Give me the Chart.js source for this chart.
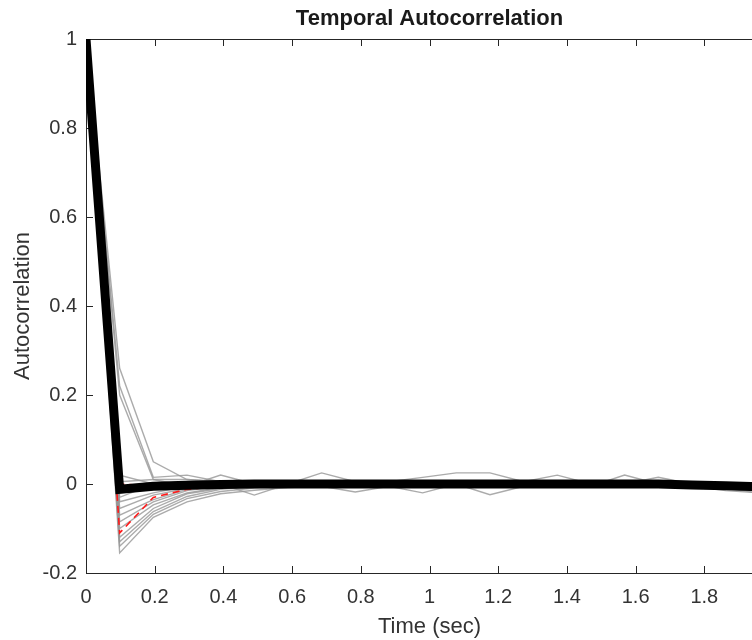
<!DOCTYPE html>
<html>
<head>
<meta charset="utf-8">
<script src="https://cdn.jsdelivr.net/npm/chart.js@4.4.1/dist/chart.umd.min.js"></script>
<style>
  html, body { margin: 0; padding: 0; background: #fff; overflow: hidden; }
  #wrap { width: 848px; height: 640px; }
</style>
</head>
<body>
<div id="wrap"><canvas id="chart" width="848" height="640"></canvas></div>
<script>
// lag times (sec)
const times = [0, 0.098, 0.196, 0.294, 0.392, 0.49, 0.588, 0.686, 0.784, 0.882, 0.98,
  1.078, 1.176, 1.274, 1.372, 1.47, 1.568, 1.666, 1.764, 1.862, 1.96];

// individual autocorrelation curves (gray)
const g01 = [1, 0.26, 0.05, 0.01, 0.005, 0, 0.005, 0, -0.005, 0, 0.005, 0, 0, 0.005, 0, -0.005, 0, 0.005, 0, -0.005, -0.01];
const g02 = [1, 0.22, 0.015, 0.02, 0.005, -0.005, 0, 0.025, 0.005, 0, 0, 0.005, 0, 0, 0.005, 0, 0.005, 0, 0, -0.005, -0.005];
const g03 = [1, 0.2, 0.01, -0.005, 0.02, 0, 0.005, 0, -0.005, 0.005, 0.015, 0.025, 0.025, 0.005, 0, 0, 0, 0.005, 0, 0, -0.005];
const g04 = [1, 0.02, 0, 0.005, 0, -0.025, 0, 0.005, 0, 0, -0.005, 0, 0, 0.005, 0.02, 0, 0, 0, 0.005, 0, -0.01];
const g05 = [1, -0.155, -0.075, -0.04, -0.022, -0.014, -0.008, -0.005, -0.018, -0.005, -0.02, 0, -0.005, -0.005, 0, -0.005, 0.02, 0, -0.005, -0.01, -0.02];
const g06 = [1, -0.14, -0.068, -0.033, -0.017, -0.009, -0.005, 0, -0.005, 0, -0.005, 0, -0.024, -0.005, -0.005, -0.005, -0.005, 0, -0.005, -0.015, -0.02];
const g07 = [1, -0.13, -0.062, -0.028, -0.012, -0.006, 0, 0, 0, 0.005, 0, 0, 0, 0, -0.005, 0, 0, 0.015, 0, -0.01, -0.015];
const g08 = [1, -0.12, -0.055, -0.022, -0.01, -0.005, 0, 0, 0, 0, 0, 0.005, 0, 0, 0, 0, 0, 0, 0, -0.005, -0.01];
const g09 = [1, -0.1, -0.047, -0.02, -0.008, 0, 0, 0, 0, 0, 0, 0, 0, 0, 0, 0, 0, 0, 0, 0, -0.005];
const g10 = [1, -0.085, -0.04, -0.015, -0.005, 0, 0.005, 0, 0, 0, 0, 0, 0.005, 0, 0, 0, 0, 0, 0, 0, 0];
const g11 = [1, -0.07, -0.035, -0.012, -0.005, 0, 0, 0.005, 0, 0, 0, 0, 0, 0, 0, 0, 0, 0, 0, 0, -0.005];
const g12 = [1, -0.055, -0.025, -0.01, 0, 0, 0, 0, 0, 0, 0, 0, 0, 0, 0, 0, 0, 0, 0, 0, 0];
const g13 = [1, -0.04, -0.02, -0.005, 0, 0, 0, 0, 0, 0, 0, 0, 0, 0, 0, 0, 0, 0, 0, 0, -0.005];
const g14 = [1, -0.03, 0, 0.005, 0, 0, 0, 0, 0, 0, 0, 0, 0, 0, 0, 0, 0, 0, 0, 0, 0];
const g15 = [1, -0.02, -0.01, 0, 0, 0, 0, 0, 0, 0, 0, 0, 0, 0, 0, 0, 0, 0, 0, 0, -0.005];
const g16 = [1, 0.005, 0.01, 0.01, 0.005, 0, 0, 0, 0, 0, 0, 0, 0, 0, 0, 0, 0, 0, 0, 0, 0];
const grayCurves = [g01, g02, g03, g04, g05, g06, g07, g08, g09, g10, g11, g12, g13, g14, g15, g16];

// highlighted curves (red dashed)
const r01 = [1, 0, -0.005, -0.003, 0, 0, 0, 0, 0, 0, 0, 0, 0, 0, 0, 0, 0, 0, 0, 0, 0];
const r02 = [1, -0.11, -0.03, -0.012, -0.005, 0, 0, 0, 0, 0, 0, 0, 0, 0, 0, 0, 0, 0, 0, 0, 0];
const redCurves = [r01, r02];

// mean curve (black)
const meanCurve = [1, -0.012, -0.005, -0.003, -0.001, 0, 0, 0, 0, 0, 0, 0, 0, 0, 0, 0, 0, 0, -0.002, -0.004, -0.006];

const xTicks = [0, 0.2, 0.4, 0.6, 0.8, 1, 1.2, 1.4, 1.6, 1.8, 2];
const yTicks = [-0.2, 0, 0.2, 0.4, 0.6, 0.8, 1];

const FONT = '"Liberation Sans", Arial, Helvetica, sans-serif';
const AXIS = '#262626';
const LABEL = '#333333';

function pts(ys) {
  return ys.map((y, i) => ({ x: times[i], y }));
}

function lineSet(ys, color, width, order, dash) {
  return {
    data: pts(ys),
    borderColor: color,
    borderWidth: width,
    borderDash: dash || [],
    borderJoinStyle: 'miter',
    pointRadius: 0,
    tension: 0,
    order
  };
}

const fmt = v => String(Number(Number(v).toFixed(1)));

const datasets = [lineSet(meanCurve, '#000000', 9, 0)];
redCurves.forEach(c => datasets.push(lineSet(c, '#ff1a1a', 1.6, 1, [7, 5])));
grayCurves.forEach(c => datasets.push(lineSet(c, 'rgba(150,150,150,0.8)', 1.4, 2)));

// MATLAB-like box with inward ticks
const boxPlugin = {
  id: 'matlabBox',
  beforeDatasetsDraw(chart) {
    const { ctx, chartArea: a, scales } = chart;
    ctx.save();
    ctx.strokeStyle = AXIS;
    ctx.lineWidth = 1;
    ctx.strokeRect(a.left + 0.5, a.top + 0.5, a.right - a.left, a.bottom - a.top);
    const len = 7;
    ctx.beginPath();
    scales.x.ticks.forEach(t => {
      const px = Math.round(scales.x.getPixelForValue(t.value)) + 0.5;
      ctx.moveTo(px, a.bottom); ctx.lineTo(px, a.bottom - len);
      ctx.moveTo(px, a.top); ctx.lineTo(px, a.top + len);
    });
    scales.y.ticks.forEach(t => {
      const py = Math.round(scales.y.getPixelForValue(t.value)) + 0.5;
      ctx.moveTo(a.left, py); ctx.lineTo(a.left + len, py);
      ctx.moveTo(a.right, py); ctx.lineTo(a.right - len, py);
    });
    ctx.stroke();
    ctx.restore();
  }
};

new Chart(document.getElementById('chart'), {
  type: 'line',
  data: { datasets },
  options: {
    responsive: false,
    animation: false,
    devicePixelRatio: 1,
    layout: { padding: { top: 0, right: 75, bottom: 0, left: 0 } },
    plugins: {
      legend: { display: false },
      tooltip: { enabled: false },
      title: {
        display: true,
        fullSize: false,
        text: 'Temporal Autocorrelation',
        color: '#1a1a1a',
        font: { family: FONT, size: 22, weight: 'bold' },
        padding: { top: 6, bottom: 6.6 }
      }
    },
    scales: {
      x: {
        type: 'linear',
        min: 0,
        max: 2,
        afterBuildTicks: s => { s.ticks = xTicks.map(v => ({ value: v })); },
        afterFit: s => { s.height = 67; },
        grid: { display: false, drawTicks: false },
        border: { display: false },
        ticks: {
          color: LABEL,
          padding: 12,
          maxRotation: 0,
          autoSkip: false,
          callback: fmt,
          font: { family: FONT, size: 20 }
        },
        title: {
          display: true,
          text: 'Time (sec)',
          color: LABEL,
          font: { family: FONT, size: 22 },
          padding: { top: 0, bottom: 0 }
        }
      },
      y: {
        type: 'linear',
        min: -0.2,
        max: 1,
        afterBuildTicks: s => { s.ticks = yTicks.map(v => ({ value: v })); },
        afterFit: s => { s.width = 86; },
        grid: { display: false, drawTicks: false },
        border: { display: false },
        ticks: {
          color: LABEL,
          padding: 9,
          autoSkip: false,
          callback: fmt,
          font: { family: FONT, size: 20 }
        },
        title: {
          display: true,
          text: 'Autocorrelation',
          color: LABEL,
          font: { family: FONT, size: 22 },
          padding: { top: 10, bottom: 0 }
        }
      }
    }
  },
  plugins: [boxPlugin]
});
</script>
</body>
</html>
